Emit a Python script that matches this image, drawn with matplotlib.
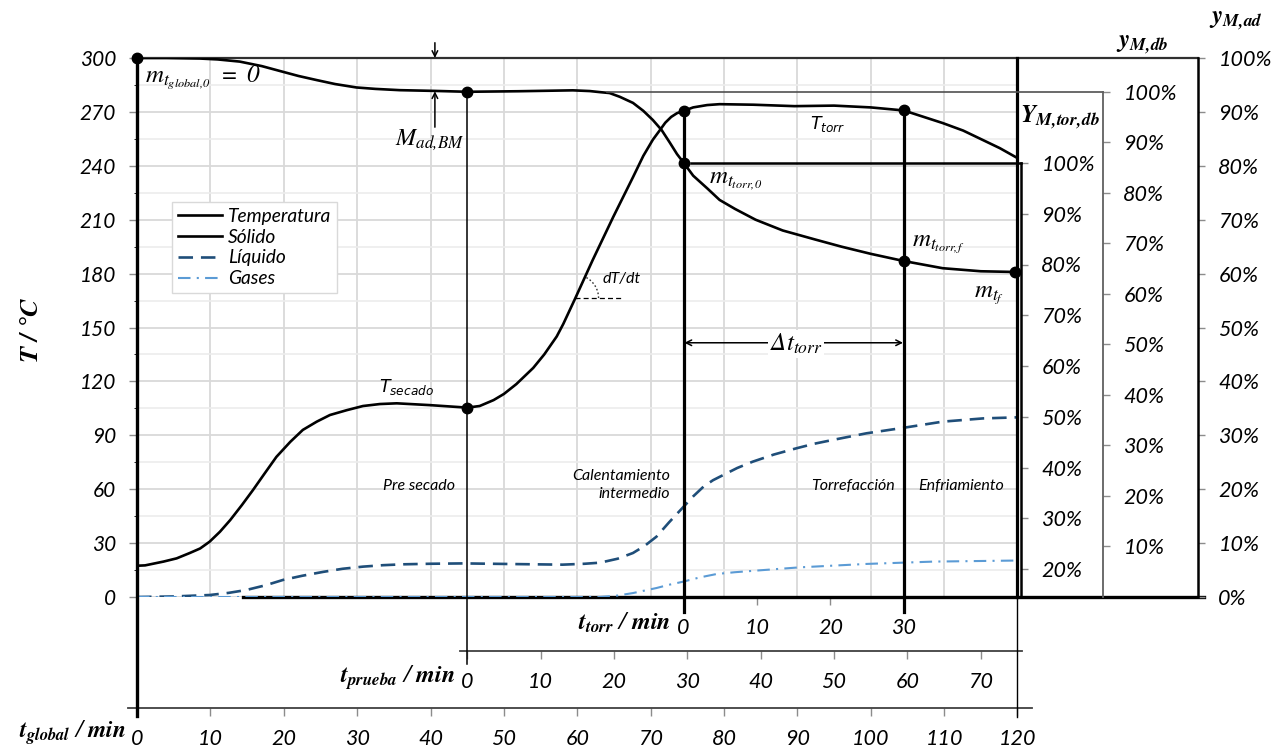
import numpy as np
import matplotlib
matplotlib.use('Agg')
import matplotlib.pyplot as plt
from matplotlib.patches import Arc

# ---------------- data ----------------
t_temp = [0, 1.1, 3.6, 5.4, 7.2, 8.6, 9.9, 11.3, 12.7, 14.3, 15.8, 17.4, 19.0, 20.9, 22.6,
          24.5, 26.3, 28.6, 30.8, 33.1, 35.4, 39.9, 45.0, 46.7, 48.6, 50.0, 51.7, 54.0,
          55.5, 57.2, 58.1, 59.7, 62.1, 64.9, 67.6, 69.0, 70.3, 71.2, 72.0, 72.8, 73.6, 74.5,
          75.8, 77.7, 79.4, 84.0, 89.6, 95.0, 100.0, 104.5, 109.8, 112.6, 117.6, 120.0]
T_temp = [17.4, 17.6, 19.7, 21.5, 24.5, 27.0, 30.8, 36.3, 42.8, 51.2, 59.5, 68.8, 78.0, 86.4, 93.0,
          97.6, 101.3, 104.0, 106.3, 107.4, 107.8, 106.8, 105.4, 106.3, 109.6, 113.0, 118.5, 127.5,
          135.0, 145.0, 152.0, 166.0, 187.5, 211.5, 233.7, 245.5, 254.5, 259.5, 264.0, 267.2, 269.3, 270.6,
          272.5, 273.8, 274.3, 274.0, 273.2, 273.5, 272.5, 270.8, 263.8, 259.6, 249.8, 244.3]

t_sol = [0, 4.0, 8.6, 11.0, 14.0, 17.0, 19.9, 22.0, 24.5, 27.0, 29.9, 32.5, 35.8, 40.4, 45.0,
         52.0, 59.4, 61.7, 63.1, 64.4, 65.8, 67.6, 69.0, 70.3, 71.5, 72.6, 73.6, 74.5, 75.8,
         77.7, 79.4, 81.5, 84.3, 88.0, 92.4, 96.0, 100.0, 104.5, 109.8, 115.0, 119.7]
S_sol = [300, 300, 299.7, 299.2, 298.0, 295.5, 292.3, 290.0, 287.7, 285.5, 283.6, 282.8, 282.1, 281.7, 281.2,
         281.5, 282.0, 281.6, 281.0, 280.5, 278.4, 275.0, 270.6, 265.5, 259.9, 253.0, 246.5, 241.7, 234.5,
         227.5, 221.0, 216.0, 210.0, 204.0, 199.0, 195.0, 191.0, 187.0, 183.0, 181.3, 180.9]

t_liq = [0, 5.0, 9.9, 12.5, 14.9, 17.5, 19.9, 22.5, 25.4, 28.0, 30.8, 33.5, 36.3, 40.0, 44.5,
         52.0, 58.0, 61.0, 63.1, 65.5, 67.6, 69.2, 70.8, 72.5, 74.3, 75.8, 77.2, 78.5, 79.9,
         81.8, 83.9, 86.8, 89.9, 92.3, 94.8, 99.4, 104.5, 109.8, 115.3, 120.0]
L_liq = [0, 0.3, 1.1, 2.3, 3.9, 6.5, 9.5, 11.8, 14.0, 15.7, 16.9, 17.7, 18.2, 18.5, 18.7,
         18.3, 18.0, 18.5, 19.1, 21.3, 24.5, 28.5, 33.6, 41.5, 49.4, 56.0, 61.4, 65.0, 67.9,
         71.8, 75.3, 79.3, 82.8, 85.3, 87.4, 91.1, 94.2, 97.6, 99.4, 100.0]

t_gas = [0, 63.1, 65.5, 67.6, 69.2, 70.8, 72.5, 74.4, 76.7, 79.0, 81.5, 84.4, 90.3, 99.4, 108.5, 120.0]
G_gas = [0, 0, 0.8, 2.2, 3.6, 5.0, 6.8, 8.5, 10.9, 12.8, 13.8, 14.7, 16.5, 18.4, 19.7, 20.3]

dot_t = [0, 45, 45, 74.5, 74.5, 104.5, 104.5, 119.7]
dot_T = [300, 281.2, 105.4, 270.6, 241.7, 270.8, 187.0, 180.9]

T_ticks = list(range(0, 301, 30))
global_ticks = list(range(0, 121, 10))
prueba_ticks = list(range(0, 71, 10))
torr_ticks = [0, 10, 20, 30]
ad_ticks = list(range(0, 101, 10))
db_ticks = list(range(10, 101, 10))
tor_ticks = list(range(20, 101, 10))

T_PRUEBA0 = 45.0
T_TORR0 = 74.5
T_TORRF = 104.5
T_END = 120.0

legend_labels = ['Temperatura', 'Sólido', 'Líquido', 'Gases']

# ---------------- layout ----------------
W, H = 1273, 749
AX_L, AX_R, AX_T, AX_B = 137, 1017.5, 58, 597

def fx(px):
    return (px - AX_L) / (AX_R - AX_L)

def fy(py):
    return (AX_B - py) / (AX_B - AX_T)

plt.rcParams.update({
    'font.family': ['Lato', 'DejaVu Sans'],
    'font.style': 'italic',
    'mathtext.fontset': 'stix',
    'axes.linewidth': 1.5,
})

fig = plt.figure(figsize=(W / 100, H / 100), dpi=100)
ax = fig.add_axes([AX_L / W, 1 - AX_B / H, (AX_R - AX_L) / W, (AX_B - AX_T) / H])
ax.set_xlim(0, 120)
ax.set_ylim(0, 300)
for s in ax.spines.values():
    s.set_visible(False)

C_LIQ = '#1F4E79'
C_GAS = '#5B9BD5'
TICKC = '#8c8c8c'

# grid
ax.set_xticks(global_ticks)
ax.set_yticks(T_ticks)
ax.set_yticks(np.arange(15, 300, 30), minor=True)
ax.tick_params(axis='x', bottom=False, labelbottom=False)
ax.tick_params(axis='y', which='major', length=6, width=1, color=TICKC, pad=9, labelsize=15)
ax.tick_params(axis='y', which='minor', left=False)
ax.grid(True, axis='x', which='major', color='#d9d9d9', lw=1.3)
ax.grid(True, axis='y', which='major', color='#d9d9d9', lw=1.3)
ax.grid(True, axis='y', which='minor', color='#ececec', lw=1.2)
ax.set_axisbelow(True)

# curves
ax.plot(t_temp, T_temp, color='black', lw=1.9, label=legend_labels[0], zorder=4, solid_joinstyle='round')
ax.plot(t_sol, S_sol, color='black', lw=1.9, label=legend_labels[1], zorder=4, solid_joinstyle='round')
ax.plot(t_liq, L_liq, color=C_LIQ, lw=1.9, ls=(0, (5.5, 3)), label=legend_labels[2], zorder=3)
ax.plot(t_gas, G_gas, color=C_GAS, lw=1.5, ls=(0, (6, 3, 1, 3)), label=legend_labels[3], zorder=3)

# spines on the right (secondary y-axes)
pos_tor = fx(1020.5)
pos_db = fx(1102.5)
pos_ad = fx(1197.5)

ax_ad = ax.twinx()
ax_db = ax.twinx()
ax_tor = ax.twinx()
for a in (ax_ad, ax_db, ax_tor):
    for s in ('left', 'top', 'bottom'):
        a.spines[s].set_visible(False)
ax_ad.spines['right'].set_position(('axes', pos_ad))
ax_db.spines['right'].set_position(('axes', pos_db))
ax_tor.spines['right'].set_position(('axes', pos_tor))

ax_ad.set_ylim(0, 100)
ax_db.set_ylim(0, 100 * (AX_B - AX_T) / (AX_B - 91.7))
tor_px_per = 50.75 / 10.0
ax_tor.set_ylim(100 - (AX_B - 163) / tor_px_per, 100 + (163 - AX_T) / tor_px_per)

ax_ad.spines['right'].set_color('black')
ax_ad.spines['right'].set_linewidth(1.8)
ax_db.spines['right'].set_color('#606060')
ax_db.spines['right'].set_linewidth(1.3)
ax_db.spines['right'].set_bounds(0, 100)
ax_tor.spines['right'].set_color('black')
ax_tor.spines['right'].set_linewidth(1.8)
ax_tor.spines['right'].set_bounds(ax_tor.get_ylim()[0], 100)

for a, ticks in ((ax_ad, ad_ticks), (ax_db, db_ticks), (ax_tor, tor_ticks)):
    a.set_yticks(ticks)
    a.set_yticklabels([f'{v}%' for v in ticks])
    a.tick_params(axis='y', length=5, width=1, color=TICKC, pad=10, labelsize=15.5)

# horizontal construction lines
ax.axhline(300, xmin=0, xmax=pos_ad, color='#303030', lw=1.6, clip_on=False, zorder=2)
ax_db.axhline(100, xmin=fx(607), xmax=pos_db, color='#505050', lw=1.2, clip_on=False, zorder=2)
ax_tor.axhline(100, xmin=(T_TORR0 + 1.0) / 120, xmax=pos_tor, color='black', lw=1.8, clip_on=False)
ax.axhline(0, xmin=14.5 / 120, xmax=pos_ad + 0.007, color='black', lw=2.4, clip_on=False, zorder=2)

# vertical construction lines
ax.axvline(0, ymin=fy(716), ymax=1, color='black', lw=2.4, clip_on=False, zorder=5)
ax.axvline(T_PRUEBA0, ymin=fy(664), ymax=dot_T[1] / 300, color='black', lw=1.1, clip_on=False, zorder=5)
ax.axvline(T_TORR0, ymin=fy(612), ymax=dot_T[3] / 300, color='black', lw=2.3, clip_on=False, zorder=5)
ax.axvline(T_TORRF, ymin=fy(612), ymax=dot_T[5] / 300, color='black', lw=2.3, clip_on=False, zorder=5)
ax.axvline(T_END, ymin=0, ymax=1, color='black', lw=2.3, clip_on=False, zorder=5)
ax.axvline(T_END, ymin=fy(717), ymax=0, color='black', lw=1.0, clip_on=False, zorder=5)

# dots
ax.plot(dot_t, dot_T, 'o', color='black', ms=7.5, clip_on=False, zorder=6)

# ---------------- x axes below ----------------
def ident(x):
    return x

sec_g = ax.secondary_xaxis(fy(708), functions=(ident, ident))
sec_g.set_xticks(global_ticks)
sec_g.spines['bottom'].set_bounds(-1.2, 122)
sec_g.spines['bottom'].set_color('#404040')
sec_g.spines['bottom'].set_linewidth(1.3)
sec_g.tick_params(length=6, width=1, color=TICKC, pad=9, labelsize=15.5)

sec_p = ax.secondary_xaxis(fy(651), functions=(lambda x: x - T_PRUEBA0, lambda x: x + T_PRUEBA0))
sec_p.set_xticks(prueba_ticks)
sec_p.spines['bottom'].set_bounds(-1, 75.6)
sec_p.spines['bottom'].set_color('#404040')
sec_p.spines['bottom'].set_linewidth(1.3)
sec_p.tick_params(length=6, width=1, color=TICKC, pad=9, labelsize=15.5)

sec_t = ax.secondary_xaxis(0, functions=(lambda x: x - T_TORR0, lambda x: x + T_TORR0))
sec_t.set_xticks(torr_ticks)
sec_t.spines['bottom'].set_visible(False)
sec_t.tick_params(length=6, width=1, color=TICKC, pad=9, labelsize=15.5)

# axis titles
fig.text(30 / W, 1 - 330 / H, r'$\mathbfit{T\ /\ °C}$', rotation=90, ha='center', va='center', fontsize=19)
fig.text(126 / W, 1 - 733 / H, r'$\mathbfit{t_{global}}\ /\ \mathbfit{min}$', ha='right', va='center', fontsize=17)
fig.text(456 / W, 1 - 678 / H, r'$\mathbfit{t_{prueba}}\ /\ \mathbfit{min}$', ha='right', va='center', fontsize=17.5)
fig.text(671 / W, 1 - 623 / H, r'$\mathbfit{t_{torr}}\ /\ \mathbfit{min}$', ha='right', va='center', fontsize=17.5)
fig.text(1236 / W, 1 - 21 / H, r'$\mathbfit{y_{M,\!ad}}$', ha='center', va='center', fontsize=18)
fig.text(1142 / W, 1 - 45 / H, r'$\mathbfit{y_{M,\!db}}$', ha='center', va='center', fontsize=18)
fig.text(1060 / W, 1 - 117 / H, r'$\mathbfit{Y_{M,\!tor,\!db}}$', ha='center', va='center', fontsize=18)

# ---------------- annotations ----------------
ax.text(1.1, 288.8, r'$m_{t_{global,\!0}}\ =\ \mathrm{0}$', ha='left', va='center', fontsize=18, fontstyle='normal')
ax.annotate('', xy=(40.6, 300), xytext=(40.6, 308.5), annotation_clip=False,
            arrowprops=dict(arrowstyle='->', color='black', lw=1.1, shrinkA=0, shrinkB=0))
ax.annotate('', xy=(40.6, 281.5), xytext=(40.6, 261.5), annotation_clip=False,
            arrowprops=dict(arrowstyle='->', color='black', lw=1.1, shrinkA=0, shrinkB=0))
ax.text(39.9, 254.5, r'$M_{ad,\!BM}$', ha='center', va='center', fontsize=17.5, fontstyle='normal')

ax.text(36.8, 117, r'$T_{secado}$', math_fontfamily='dejavusans', ha='center', va='center', fontsize=12.5)
ax.text(94.2, 263, r'$T_{torr}$', math_fontfamily='dejavusans', ha='center', va='center', fontsize=12.5)
ax.text(78.0, 231, r'$m_{t_{torr,\!0}}$', ha='left', va='center', fontsize=18, fontstyle='normal')
ax.text(105.6, 196.4, r'$m_{t_{torr,\!f}}$', ha='left', va='center', fontsize=18, fontstyle='normal')
ax.text(116.1, 168, r'$m_{t_f}$', ha='center', va='center', fontsize=18, fontstyle='normal')

ax.text(38.4, 61.8, 'Pre secado', ha='center', va='center', fontsize=11.5)
ax.text(66.0, 62.3, 'Calentamiento\nintermedio', ha='center', va='center', fontsize=11.5,
        multialignment='right', linespacing=1.35)
ax.text(97.6, 61.8, 'Torrefacción', ha='center', va='center', fontsize=11.5)
ax.text(112.3, 61.8, 'Enfriamiento', ha='center', va='center', fontsize=11.5)

# delta t arrow
ax.annotate('', xy=(T_TORR0 + 0.1, 141.5), xytext=(T_TORRF - 0.1, 141.5),
            arrowprops=dict(arrowstyle='<->', color='black', lw=1.1, shrinkA=0, shrinkB=0))
ax.text(89.8, 141.0, r'$\Delta t_{torr}$', ha='center', va='center', fontsize=18, fontstyle='normal',
        bbox=dict(facecolor='white', edgecolor='none', pad=1.5))

# dT/dt
ax.plot([59.7, 66.1], [166.4, 166.4], color='black', lw=0.9, ls=(0, (4, 2.5)), zorder=4)
ax.add_patch(Arc((59.7, 166.4), width=6.4, height=26.0, theta1=0, theta2=83,
                 edgecolor='#333333', lw=1.0, ls=(0, (1.2, 1.6)), zorder=7))
ax.text(63.4, 177, 'dT/dt', ha='left', va='center', fontsize=11.5)

# legend
leg = ax.legend(loc='upper left', bbox_to_anchor=(172 / W, 1 - 202 / H), bbox_transform=fig.transFigure,
                fontsize=13.8, frameon=True, fancybox=False, edgecolor='#d9d9d9', framealpha=1,
                handlelength=2.3, handletextpad=0.3, labelspacing=0.2, borderpad=0.3, borderaxespad=0)
leg.get_frame().set_linewidth(1.0)
leg.set_zorder(10)

fig.savefig('out.png', dpi=100)
